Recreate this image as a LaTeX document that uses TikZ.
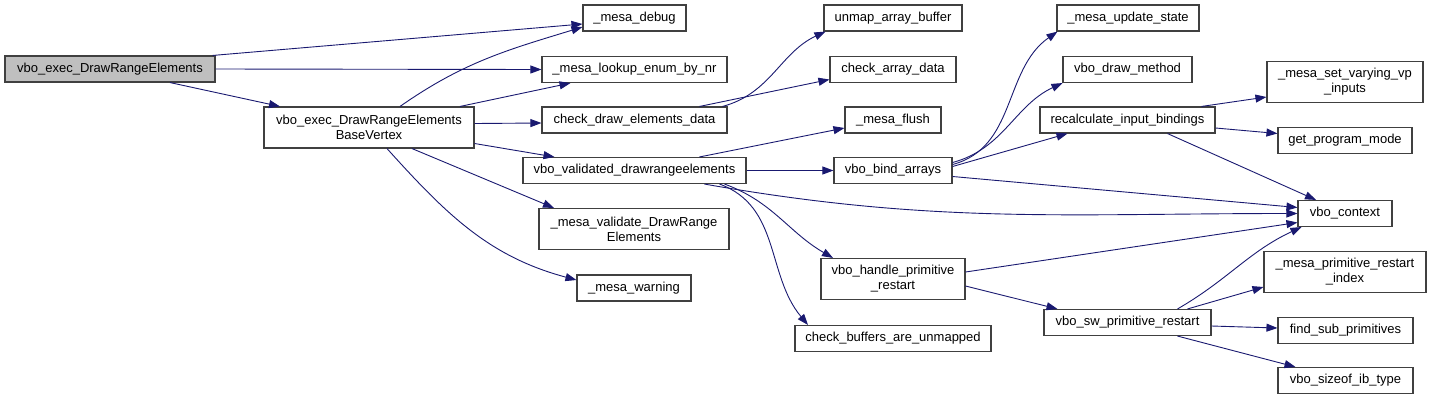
\documentclass[tikz,border=0pt]{standalone}
\usepackage{fontspec}
\setmainfont{Liberation Sans}
\usetikzlibrary{arrows.meta}
\definecolor{edgeblue}{HTML}{191970}
\definecolor{boxline}{HTML}{404040}
\definecolor{rootgrey}{HTML}{BFBFBF}

\begin{document}
\begin{tikzpicture}[x=1pt, y=-1pt, font=\fontsize{13}{15}\selectfont,
  >={Triangle[length=11pt, width=8pt]},
  fn/.style={draw=boxline, fill=white, line width=1.1pt, inner sep=0pt, align=center, minimum height=26pt},
  fntwo/.style={fn, minimum height=41pt},
  call/.style={->, color=edgeblue, line width=0.9pt}]
\useasboundingbox (0,0) rectangle (1432,400);
% ---- caller and first level ----
\node[fn, fill=rootgrey, minimum width=210pt] (root) at (110,69) {vbo\_exec\_DrawRangeElements};
\node[fntwo, minimum width=210pt] (base) at (369,127.5) {vbo\_exec\_DrawRangeElements\\BaseVertex};
% ---- second column ----
\node[fn, minimum width=103pt] (debug) at (634.5,18) {\_mesa\_debug};
\node[fn, minimum width=185pt] (lookup) at (634.5,69.5) {\_mesa\_lookup\_enum\_by\_nr};
\node[fn, minimum width=185pt] (cded) at (634.5,120) {check\_draw\_elements\_data};
\node[fn, minimum width=223pt] (valid) at (634.5,170.5) {vbo\_validated\_drawrangeelements};
\node[fntwo, minimum width=190pt] (mvalid) at (634,229) {\_mesa\_validate\_DrawRange\\Elements};
\node[fn, minimum width=114pt] (warn) at (634,288) {\_mesa\_warning};
% ---- third column ----
\node[fn, minimum width=138pt] (unmap) at (893,18) {unmap\_array\_buffer};
\node[fn, minimum width=126pt] (cad) at (893,69.5) {check\_array\_data};
\node[fn, minimum width=96pt] (flush) at (893,120) {\_mesa\_flush};
\node[fn, minimum width=118pt] (bind) at (893,170.5) {vbo\_bind\_arrays};
\node[fntwo, minimum width=144pt] (hpr) at (893,279) {vbo\_handle\_primitive\\\_restart};
\node[fn, minimum width=196pt] (cbau) at (893,338.5) {check\_buffers\_are\_unmapped};
% ---- fourth column ----
\node[fn, minimum width=142pt] (update) at (1128,18) {\_mesa\_update\_state};
\node[fn, minimum width=129pt] (drawm) at (1127.5,69.5) {vbo\_draw\_method};
\node[fn, minimum width=175pt] (recalc) at (1127.5,120) {recalculate\_input\_bindings};
\node[fn, minimum width=167pt] (vsw) at (1127.5,322.5) {vbo\_sw\_primitive\_restart};
% ---- fifth column ----
\node[fntwo, minimum width=156pt] (setvar) at (1345,82) {\_mesa\_set\_varying\_vp\\\_inputs};
\node[fn, minimum width=134pt] (gpm) at (1345,140.5) {get\_program\_mode};
\node[fn, minimum width=94pt] (ctx) at (1345,213.5) {vbo\_context};
\node[fntwo, minimum width=162pt] (pri) at (1345,272) {\_mesa\_primitive\_restart\\\_index};
\node[fn, minimum width=135pt] (fsp) at (1345.5,330.5) {find\_sub\_primitives};
\node[fn, minimum width=135pt] (sizeof) at (1345.5,380.5) {vbo\_sizeof\_ib\_type};
% ---- calls ----
\draw[call] ([xshift=-3pt]root.north east) -- ([yshift=-6pt]debug.west);
\draw[call] (root.east) -- (lookup.west);
\draw[call] ([xshift=60pt]root.south) -- ([xshift=-89pt]base.north);
\draw[call] ([xshift=31pt]base.north) to[out=35, in=197] ([yshift=-9pt]debug.west);
\draw[call] ([xshift=91pt]base.north) -- ([xshift=-64pt]lookup.south);
\draw[call] ([yshift=4pt]base.east) -- ([yshift=-3pt]cded.west);
\draw[call] ([yshift=-16pt]base.east) -- ([xshift=-80pt]valid.north);
\draw[call] ([xshift=43pt]base.south) -- ([xshift=-80pt]mvalid.north);
\draw[call] ([xshift=18pt]base.south) to[out=-48, in=165] ([yshift=8pt]warn.west);
\draw[call] ([xshift=88pt]cded.north) to[out=15, in=205] ([xshift=2pt]unmap.south west);
\draw[call] ([xshift=65pt]cded.north) -- ([yshift=-10pt]cad.west);
\draw[call] ([xshift=65pt]valid.north) -- ([yshift=-8pt]flush.west);
\draw[call] (valid.east) -- (bind.west);
\draw[call] ([xshift=70pt]valid.south) to[out=-10, in=180] (ctx.west);
\draw[call] ([xshift=90pt]valid.south) to[out=-20, in=150] ([xshift=-60pt]hpr.north);
\draw[call] ([xshift=85pt]valid.south) to[out=-20, in=130] ([xshift=-85pt]cbau.north);
\draw[call] ([yshift=6pt]bind.east) to[out=15, in=215] ([xshift=1pt]update.south west);
\draw[call] ([yshift=8pt]bind.east) to[out=15, in=205] (drawm.south west);
\draw[call] ([yshift=4pt]bind.east) -- ([xshift=-60pt]recalc.south);
\draw[call] ([yshift=-6pt]bind.east) -- ([yshift=6pt]ctx.west);
\draw[call] ([xshift=74pt]recalc.north) -- ([yshift=-15pt]setvar.west);
\draw[call] ([yshift=-8pt]recalc.east) -- ([yshift=7pt]gpm.west);
\draw[call] ([xshift=40pt]recalc.south) -- ([xshift=-29pt]ctx.north);
\draw[call] ([yshift=7pt]hpr.east) -- ([yshift=-9pt]ctx.west);
\draw[call] ([yshift=-7pt]hpr.east) -- ([xshift=-70pt]vsw.north);
\draw[call] ([xshift=50pt]vsw.north) to[out=30, in=205] ([xshift=4pt]ctx.south west);
\draw[call] ([xshift=60pt]vsw.north) -- ([yshift=-15pt]pri.west);
\draw[call] ([yshift=-3.5pt]vsw.east) -- ([yshift=2.5pt]fsp.west);
\draw[call] ([xshift=50pt]vsw.south) -- ([xshift=-50pt]sizeof.north);
\end{tikzpicture}
\end{document}
